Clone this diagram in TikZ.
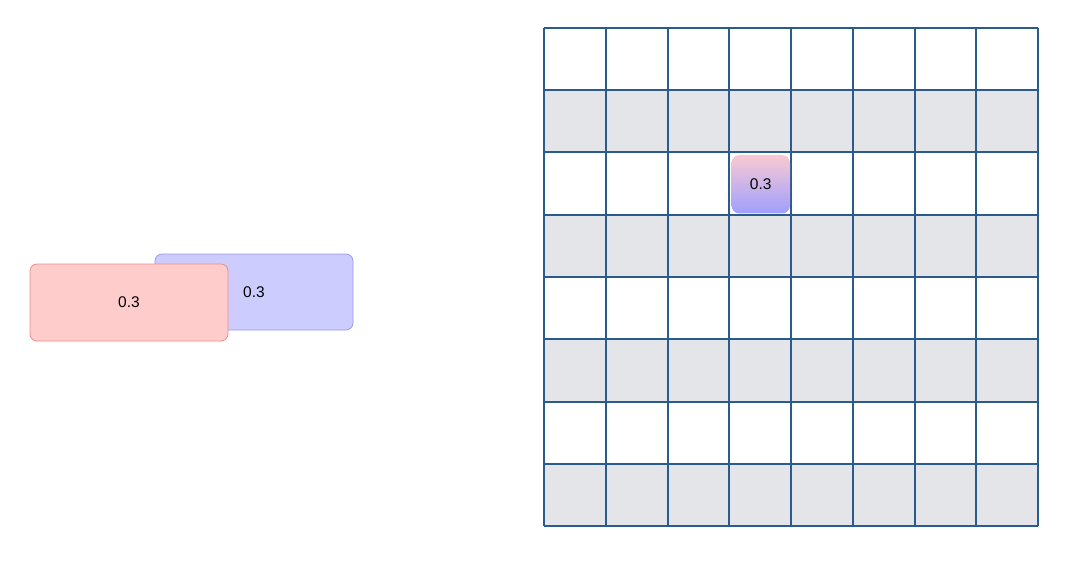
\documentclass[tikz,border=0pt]{standalone}
\usepackage{fontspec}
\setmainfont{Liberation Sans}
\begin{document}
\begin{tikzpicture}[x=1pt,y=-1pt,
  gridline/.style={draw=gridblue,line width=2pt},
  lbl/.style={font=\fontsize{15.5}{18}\selectfont},
  chip/.style={lbl,rounded corners=7pt,line width=0.8pt}]
\definecolor{gridblue}{HTML}{2A5B8E}
\definecolor{greycell}{HTML}{E4E5E9}
\definecolor{redfill}{HTML}{FFCCCC}
\definecolor{reddraw}{HTML}{F08A8A}
\definecolor{bluefill}{HTML}{CCCCFF}
\definecolor{bluedraw}{HTML}{9A9AF0}
\definecolor{gradtop}{HTML}{F9C9D2}
\definecolor{gradbot}{HTML}{9F9FFF}
\useasboundingbox (0,0) rectangle (1080,567);
% grey rows
\foreach \r in {1,3,5,7}{
  \fill[greycell] (544,{28+\r*62.25}) rectangle (1038,{28+(\r+1)*62.25});
}
% grid lines
\foreach \i in {0,...,8}{
  \draw[gridline] ({544+\i*61.75},28) -- ({544+\i*61.75},526);
  \draw[gridline] (544,{28+\i*62.25}) -- (1038,{28+\i*62.25});
}
% gradient chip
\shade[top color=gradtop,bottom color=gradbot,rounded corners=8pt] (731.5,155) rectangle (790,213.5);
\node[lbl] (g) at (760.75,184.5) {0.3};
% left boxes
\node[chip,draw=bluedraw,fill=bluefill,minimum width=198pt,minimum height=76pt] (b) at (254,292) {0.3};
\node[chip,draw=reddraw,fill=redfill,minimum width=198pt,minimum height=77pt] (a) at (129,302.5) {0.3};
\end{tikzpicture}
\end{document}
